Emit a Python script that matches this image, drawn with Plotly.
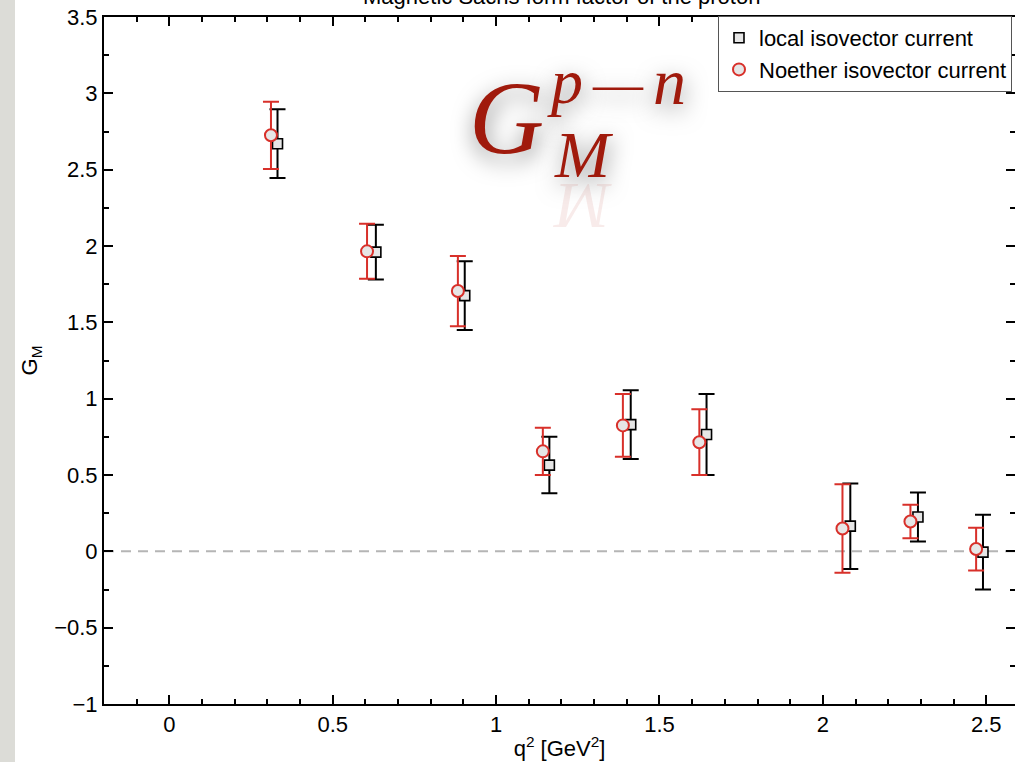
import plotly.graph_objects as go

# Magnetic Sachs form factor G_M^{p-n} at each momentum transfer q^2 [GeV^2]
q2_local = [0.331, 0.632, 0.904, 1.163, 1.412, 1.644, 2.084, 2.291, 2.490]
gm_local = [2.67, 1.96, 1.675, 0.565, 0.83, 0.765, 0.165, 0.225, -0.005]
err_local = [0.225, 0.18, 0.225, 0.185, 0.225, 0.265, 0.28, 0.16, 0.245]

q2_noether = [0.311, 0.605, 0.883, 1.143, 1.388, 1.622, 2.060, 2.268, 2.469]
gm_noether = [2.725, 1.965, 1.705, 0.655, 0.825, 0.715, 0.15, 0.195, 0.015]
err_noether = [0.22, 0.18, 0.23, 0.155, 0.205, 0.215, 0.29, 0.11, 0.14]

x_ticks = [0, 0.5, 1, 1.5, 2, 2.5]
y_ticks = [-1, -0.5, 0, 0.5, 1, 1.5, 2, 2.5, 3, 3.5]

W, H = 1015, 762
ML, MR, MT, MB = 104, 0, 17, 58
PW, PH = W - ML - MR, H - MT - MB

RED = "#d8302a"
SANS = "Liberation Sans, Arial, Helvetica, sans-serif"
SERIF = "Liberation Serif, Times New Roman, serif"
FORMULA = "#a01a0c"
SHADOW = "1px 7px 22px rgba(0,0,0,0.5)"
FS = 22


def px(x):
    return (x - ML) / PW


def py(y):
    return (H - MB - y) / PH


fig = go.Figure()

fig.add_trace(go.Scatter(
    x=q2_local, y=gm_local, mode="markers", name="local isovector current",
    marker=dict(symbol="square", size=10, color="#e6e6e6",
                line=dict(color="black", width=1.6)),
    error_y=dict(type="data", array=err_local, color="black",
                 thickness=2, width=8),
))
fig.add_trace(go.Scatter(
    x=q2_noether, y=gm_noether, mode="markers", name="Noether isovector current",
    marker=dict(symbol="circle", size=12, color="#e6e6e6",
                line=dict(color=RED, width=2)),
    error_y=dict(type="data", array=err_noether, color=RED,
                 thickness=2, width=8),
))

# dashed zero reference line
fig.add_shape(type="line", xref="paper", x0=0, x1=1, yref="y", y0=0, y1=0,
              line=dict(color="#b5b5b5", width=2, dash="10px,7px"), layer="below")

# grey side strip
fig.add_shape(type="rect", xref="paper", yref="paper",
              x0=px(0), x1=px(15), y0=py(H), y1=py(0),
              fillcolor="#dcdcd7", line=dict(width=0), layer="below")

axis_common = dict(
    showline=True, linewidth=2, linecolor="black", mirror="ticks",
    ticks="inside", ticklen=9, tickwidth=1.5, tickcolor="black",
    showgrid=False, zeroline=False, automargin=False,
    tickfont=dict(family=SANS, size=FS, color="black"),
)

fig.update_xaxes(
    range=[-0.2, 2.588], tickvals=x_ticks,
    minor=dict(dtick=0.1, ticks="inside", ticklen=5, tickwidth=1.5, tickcolor="black"),
    title=dict(text="q<sup>2</sup> [GeV<sup>2</sup>]", font=dict(family=SANS, size=FS, color="black"),
               standoff=4),
    **axis_common,
)
fig.update_yaxes(
    range=[-1, 3.5], tickvals=y_ticks,
    minor=dict(dtick=0.25, ticks="inside", ticklen=5, tickwidth=1.5, tickcolor="black"),
    title=dict(text="G<sub>M</sub>", font=dict(family=SANS, size=FS, color="black"),
               standoff=10),
    **axis_common,
)

annotations = [
    dict(text="Magnetic Sachs form factor of the proton", xref="paper", yref="paper",
         x=px(561), y=py(11), xanchor="center", yanchor="bottom", showarrow=False,
         font=dict(family=SANS, size=FS, color="black")),
    # formula label with drop shadow
    dict(text="<i>G</i>", xref="paper", yref="paper", x=px(506), y=py(117),
         xanchor="center", yanchor="middle", showarrow=False,
         font=dict(family=SERIF, size=104, color=FORMULA, shadow=SHADOW)),
    dict(text="<i>p</i>", xref="paper", yref="paper", x=px(565), y=py(82),
         xanchor="center", yanchor="middle", showarrow=False,
         font=dict(family=SERIF, size=64, color=FORMULA, shadow=SHADOW)),
    dict(text="\u2014", xref="paper", yref="paper", x=px(618), y=py(84),
         xanchor="center", yanchor="middle", showarrow=False,
         font=dict(family=SERIF, size=50, color=FORMULA, shadow=SHADOW)),
    dict(text="<i>n</i>", xref="paper", yref="paper", x=px(669), y=py(82),
         xanchor="center", yanchor="middle", showarrow=False,
         font=dict(family=SERIF, size=66, color=FORMULA, shadow=SHADOW)),
    dict(text="<i>M</i>", xref="paper", yref="paper", x=px(584), y=py(154),
         xanchor="center", yanchor="middle", showarrow=False,
         font=dict(family=SERIF, size=66, color=FORMULA, shadow=SHADOW)),
    # faint mirrored copy beneath the subscript
    dict(text="<i>M</i>", xref="paper", yref="paper", x=px(582), y=py(206),
         xanchor="center", yanchor="middle", showarrow=False, textangle=180,
         font=dict(family=SERIF, size=66, color="rgba(190,60,50,0.10)")),
]

fig.update_layout(
    width=W, height=H, autosize=False,
    margin=dict(l=ML, r=MR, t=MT, b=MB, autoexpand=False),
    paper_bgcolor="white", plot_bgcolor="white",
    showlegend=True,
    legend=dict(x=px(1012), y=py(16), xanchor="right", yanchor="top",
                bgcolor="white", bordercolor="#555555", borderwidth=1,
                font=dict(family=SANS, size=FS, color="black"),
                tracegroupgap=0),
    annotations=annotations,
)

fig.write_html("out.html")
